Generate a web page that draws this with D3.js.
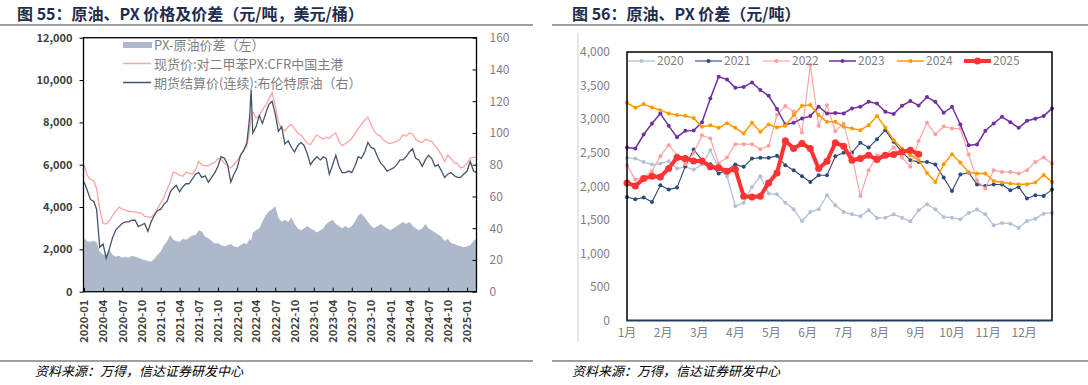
<!DOCTYPE html>
<html>
<head>
<meta charset="utf-8">
<script src="https://cdn.jsdelivr.net/npm/d3@7"></script>
<style>
body{margin:0;background:#fff;}
text{font-family:"Noto Sans CJK SC","Noto Sans",sans-serif;}
</style>
</head>
<body>
<svg id="c" width="1088" height="385"></svg>
<script>
// ---- left chart: semi-monthly readings ----
var leftDates = [
  '2020-01-02','2020-01-16','2020-02-01','2020-02-16','2020-03-01','2020-03-16','2020-04-01','2020-04-16','2020-05-01','2020-05-16','2020-06-01','2020-06-16',
  '2020-07-01','2020-07-16','2020-08-01','2020-08-16','2020-09-01','2020-09-16','2020-10-01','2020-10-16','2020-11-01','2020-11-16','2020-12-01','2020-12-16',
  '2021-01-01','2021-01-16','2021-02-01','2021-02-16','2021-03-01','2021-03-16','2021-04-01','2021-04-16','2021-05-01','2021-05-16','2021-06-01','2021-06-16',
  '2021-07-01','2021-07-16','2021-08-01','2021-08-16','2021-09-01','2021-09-16','2021-10-01','2021-10-16','2021-11-01','2021-11-16','2021-12-01','2021-12-16',
  '2022-01-01','2022-01-16','2022-02-01','2022-02-16','2022-03-01','2022-03-08','2022-03-16','2022-04-01','2022-04-16','2022-05-01','2022-05-16','2022-06-01','2022-06-16',
  '2022-07-01','2022-07-16','2022-08-01','2022-08-16','2022-09-01','2022-09-16','2022-10-01','2022-10-16','2022-11-01','2022-11-16','2022-12-01','2022-12-16',
  '2023-01-01','2023-01-16','2023-02-01','2023-02-16','2023-03-01','2023-03-16','2023-04-01','2023-04-16','2023-05-01','2023-05-16','2023-06-01','2023-06-16',
  '2023-07-01','2023-07-16','2023-08-01','2023-08-16','2023-09-01','2023-09-16','2023-10-01','2023-10-16','2023-11-01','2023-11-16','2023-12-01','2023-12-16',
  '2024-01-01','2024-01-16','2024-02-01','2024-02-16','2024-03-01','2024-03-16','2024-04-01','2024-04-16','2024-05-01','2024-05-16','2024-06-01','2024-06-16',
  '2024-07-01','2024-07-16','2024-08-01','2024-08-16','2024-09-01','2024-09-16','2024-10-01','2024-10-16','2024-11-01','2024-11-16','2024-12-01','2024-12-16',
  '2025-01-01','2025-01-16','2025-02-01','2025-02-16'];
var pxPrice = [
  5980,5500,5300,5250,4880,3900,3230,3200,3350,3600,3800,4000,
  3900,3850,3800,3780,3760,3740,3700,3560,3540,3520,3650,3900,
  4200,4450,4850,5200,5650,5600,5500,5450,5650,5600,5550,5750,
  6150,6000,5950,5950,6050,6100,6300,6250,6050,5950,5850,6000,
  6200,6400,6700,6900,7600,8300,8500,8200,8300,8600,8800,9100,9400,
  8800,8000,7700,7600,7800,7900,7700,7500,7400,7200,7000,6950,
  7200,7400,7300,7200,7300,7250,7400,7500,7100,6900,7000,7100,
  7250,7450,7700,7900,8100,8250,7900,7600,7400,7350,7150,7050,
  7000,7050,7100,7200,7400,7350,7500,7450,7200,7100,7050,7200,
  7150,7100,6900,6700,6450,6150,6450,6300,6100,6050,5850,5900,
  6050,6300,6350,6350];
var brent = [
  69,64,58,57,52,28,30,21,27,34,39,41,
  43,44,44,45,45,41,42,43,38,44,48,51,
  52,55,57,63,65,67,63,66,68,68,71,74,
  75,72,73,69,72,75,79,85,84,80,69,74,
  78,86,89,94,110,127,100,104,111,106,112,118,120,
  112,101,104,93,95,91,88,92,94,92,87,80,
  83,85,83,85,84,74,80,86,79,75,75,76,
  75,79,85,84,88,94,91,90,85,81,79,76,
  77,78,80,83,83,85,88,90,84,83,79,83,
  86,84,79,80,76,72,74,75,73,72,72,74,
  76,82,76,75];
var spread = [
  2520,2380,2360,2400,2350,1900,1750,1730,1970,1750,1650,1700,
  1600,1650,1600,1700,1650,1600,1550,1500,1450,1420,1550,1730,
  1900,2200,2400,2680,2450,2400,2350,2500,2450,2550,2650,2680,
  2900,2850,2600,2520,2400,2280,2300,2200,2150,2200,2250,2150,
  2100,2200,2300,2250,2500,2400,2800,2900,3000,3300,3600,3800,3900,
  4050,3500,3300,3400,3300,3500,3200,3000,2900,3000,3100,3000,
  2900,2800,2900,3000,3200,3300,3400,3200,3100,3000,3100,3000,
  3100,3300,3600,3700,3500,3300,3100,3000,3100,3200,3100,3000,
  2900,3000,3100,3200,3300,3200,3300,3100,3000,2900,3000,3200,
  3000,2900,2800,2700,2600,2400,2500,2300,2250,2200,2150,2100,
  2150,2200,2400,2520];
var leftTicks = [0,2000,4000,6000,8000,10000,12000];
var rightTicks = [0,20,40,60,80,100,120,140,160];

// ---- right chart: weekly readings (yuan/ton) ----
var monthLabels = ['1月','2月','3月','4月','5月','6月','7月','8月','9月','10月','11月','12月'];
var s2020 = [2423,2413,2363,2323,2338,2373,2264,2289,2249,2323,2537,2264,2149,1706,1756,1990,2149,1891,1881,1756,1657,1482,1617,1657,1866,1716,1617,1582,1552,1642,1527,1532,1582,1532,1478,1642,1731,1657,1542,1532,1507,1602,1652,1582,1418,1453,1443,1383,1482,1517,1592,1602];
var s2021 = [1841,1806,1831,1766,2015,1950,1980,2298,2547,2388,2328,2189,2240,2323,2289,2413,2423,2423,2453,2313,2239,2149,2064,2164,2164,2448,2498,2503,2647,2577,2701,2836,2662,2512,2388,2363,2363,2323,2129,1930,2174,2204,2025,2005,2025,2025,1940,1990,1816,1866,1856,1950];
var s2022 = [2313,2099,2139,2224,2448,2612,2463,2328,2498,2761,2711,2338,2428,2627,2627,2627,2552,2602,3065,3194,3115,2800,3806,2900,3206,2820,2935,2450,1855,2239,2463,2463,2580,2428,2289,2675,2945,2775,2890,2860,2860,2473,2089,1965,2239,2214,2214,2189,2239,2363,2428,2338];
var s2023 = [2577,2562,2771,2935,3085,2900,2731,2826,2831,2955,3309,3632,3592,3467,3477,3547,3433,3348,3149,2920,2945,3010,3045,3184,3085,3090,3085,3160,3184,3259,3234,3110,3075,3199,3269,3204,3329,3259,3095,3184,2920,2612,2622,2826,2935,3035,2955,2870,2975,3005,3045,3160];
var s2024 = [3244,3169,3224,3174,3134,3085,3060,3050,3015,2885,2910,2870,2940,2870,2786,2945,2811,2920,2876,2900,3060,3199,3209,3060,2960,2960,2885,2861,2836,2910,3045,2876,2687,2562,2463,2388,2199,2064,2328,2478,2353,2204,2189,2189,2079,2055,2040,2030,2030,2055,2169,2064];
var s2025 = [2050,2005,2114,2149,2139,2264,2428,2413,2378,2378,2289,2274,2224,2254,1851,1841,1851,2050,2199,2677,2562,2637,2562,2264,2373,2647,2597,2388,2413,2463,2398,2463,2473,2512,2537,2478];
var spreadTicks = [0,500,1000,1500,2000,2500,3000,3500,4000];

var svg = d3.select('#c');
var titleColor = '#1f2d4d';

// titles, rules and source lines
function header(x0, x1, tx, label){
  svg.append('text').attr('x', tx).attr('y', 20)
    .attr('font-size', 16).attr('font-weight', 'bold').attr('fill', titleColor)
    .text(label);
  svg.append('line').attr('x1', x0).attr('x2', x1).attr('y1', 25).attr('y2', 25)
    .attr('stroke', '#808080').attr('stroke-width', 1.5);
  svg.append('line').attr('x1', x0).attr('x2', x1).attr('y1', 361).attr('y2', 361)
    .attr('stroke', '#808080').attr('stroke-width', 1.5);
}
header(0, 533, 17, '图 55：原油、PX 价格及价差（元/吨，美元/桶）');
header(552, 1088, 572, '图 56：原油、PX 价差（元/吨）');
[35, 572].forEach(function(x){
  svg.append('text').attr('x', x).attr('y', 376)
    .attr('font-size', 13).attr('font-style', 'italic').attr('fill', '#000')
    .text('资料来源：万得，信达证券研发中心');
});

// ================= left chart =================
var L = {l: 83.5, r: 476.5, t: 37.7, b: 291.7};
var parse = d3.timeParse('%Y-%m-%d');
var dates = leftDates.map(parse);
var x1 = d3.scaleTime().domain([new Date(2020,0,1), new Date(2025,1,15)]).range([84, L.r]);
var yL = d3.scaleLinear().domain([0,12000]).range([L.b, L.t]);
var yR = d3.scaleLinear().domain([0,160]).range([L.b, L.t]);

svg.append('clipPath').attr('id','clipL').append('rect')
  .attr('x', L.l).attr('y', L.t).attr('width', L.r - L.l).attr('height', L.b - L.t);

var gL = svg.append('g').attr('clip-path','url(#clipL)');
var area = d3.area().x(function(d,i){return x1(dates[i]);}).y0(yL(0)).y1(function(d){return yL(d);});
gL.append('path').datum(spread).attr('d', area).attr('fill', '#adb9ca');

var linePx = d3.line().x(function(d,i){return x1(dates[i]);}).y(function(d){return yL(d);});
gL.append('path').datum(pxPrice).attr('d', linePx).attr('fill','none')
  .attr('stroke','#ffa3a3').attr('stroke-width',1.3);
var lineBr = d3.line().x(function(d,i){return x1(dates[i]);}).y(function(d){return yR(d);});
gL.append('path').datum(brent).attr('d', lineBr).attr('fill','none')
  .attr('stroke','#44546a').attr('stroke-width',1.3);

svg.append('rect').attr('x', L.l).attr('y', L.t).attr('width', L.r - L.l).attr('height', L.b - L.t)
  .attr('fill','none').attr('stroke','#000').attr('stroke-width',1.3);

var axL = svg.append('g').attr('transform','translate(' + L.l + ',0)')
  .call(d3.axisLeft(yL).tickValues(leftTicks).tickSize(4).tickFormat(d3.format(',')));
axL.select('.domain').remove();
axL.selectAll('text').attr('font-size', 11).attr('font-weight','bold').attr('fill','#404040').attr('dx', -4);
axL.selectAll('line').attr('stroke','#000');

var axR = svg.append('g').attr('transform','translate(' + L.r + ',0)')
  .call(d3.axisRight(yR).tickValues(rightTicks).tickSize(-4));
axR.select('.domain').remove();
axR.selectAll('text').attr('font-size', 12).attr('fill','#7f7f7f').attr('x', 13);
axR.selectAll('line').attr('stroke','#000');

var axX = svg.append('g').attr('transform','translate(0,' + L.b + ')')
  .call(d3.axisBottom(x1).ticks(d3.timeMonth.every(3)).tickSize(-4).tickFormat(d3.timeFormat('%Y-%m')));
axX.select('.domain').remove();
axX.selectAll('line').attr('stroke','#000');
axX.selectAll('text').attr('font-size', 11).attr('font-weight','bold').attr('fill','#404040')
  .attr('transform','rotate(-90)').attr('text-anchor','end').attr('x', -8).attr('y', 0).attr('dy','0.35em');

// legend
var lg = svg.append('g');
lg.append('rect').attr('x',123).attr('y',42).attr('width',29).attr('height',6).attr('fill','#adb9ca');
lg.append('line').attr('x1',123).attr('x2',151).attr('y1',63.5).attr('y2',63.5).attr('stroke','#ffa3a3').attr('stroke-width',1.5);
lg.append('line').attr('x1',123).attr('x2',151).attr('y1',82.5).attr('y2',82.5).attr('stroke','#44546a').attr('stroke-width',1.5);
['PX-原油价差（左）','现货价:对二甲苯PX:CFR中国主港','期货结算价(连续):布伦特原油（右）'].forEach(function(t,i){
  lg.append('text').attr('x',154).attr('y',45 + i*19).attr('dy','0.35em')
    .attr('font-size',13).attr('fill','#7f7f7f').text(t);
});

// ================= right chart =================
var R = {l: 627, r: 1052, t: 52, b: 320.5};
svg.append('line').attr('x1',578).attr('x2',578).attr('y1',33).attr('y2',342).attr('stroke','#d0d0d0');
var x2 = d3.scaleLinear().domain([0,51]).range([R.l, R.r]);
var y2 = d3.scaleLinear().domain([0,4000]).range([R.b, R.t]);

var ay2 = svg.append('g').attr('transform','translate(' + (R.l - 14) + ',0)')
  .call(d3.axisLeft(y2).tickValues(spreadTicks).tickSize(0).tickFormat(d3.format(',')));
ay2.select('.domain').remove();
ay2.selectAll('text').attr('font-size',12).attr('fill','#7f7f7f');

var ax2 = svg.append('g').attr('transform','translate(0,' + (R.b + 16) + ')');
monthLabels.forEach(function(m,i){
  ax2.append('text').attr('x', x2(i*52/12)).attr('y',0).attr('text-anchor','middle')
    .attr('font-size',12).attr('fill','#7f7f7f').text(m);
});

var series = [
  {name:'2020', data:s2020, color:'#b4c0d4', w:1.3, r:2},
  {name:'2021', data:s2021, color:'#2e4a7a', w:1.1, r:2},
  {name:'2022', data:s2022, color:'#ff9e9e', w:1.1, r:2},
  {name:'2023', data:s2023, color:'#7030a0', w:1.5, r:2},
  {name:'2024', data:s2024, color:'#ff9900', w:1.5, r:2},
  {name:'2025', data:s2025, color:'#ff3333', w:4, r:3.5}
];
var ln2 = d3.line().x(function(d,i){return x2(i);}).y(function(d){return y2(d);});
series.forEach(function(s){
  var g = svg.append('g');
  g.append('path').datum(s.data).attr('d', ln2).attr('fill','none')
    .attr('stroke', s.color).attr('stroke-width', s.w).attr('stroke-linejoin','round');
  g.selectAll('circle').data(s.data).enter().append('circle')
    .attr('cx', function(d,i){return x2(i);}).attr('cy', function(d){return y2(d);})
    .attr('r', s.r).attr('fill', s.color);
});

svg.append('rect').attr('x',R.l).attr('y',R.t).attr('width',R.r-R.l).attr('height',R.b-R.t)
  .attr('fill','none').attr('stroke','#000').attr('stroke-width',1.5);
svg.append('line').attr('x1',R.l).attr('x2',R.r).attr('y1',R.b).attr('y2',R.b)
  .attr('stroke','#1f3864').attr('stroke-width',1.5);

// legend
var legX = [628, 695, 763, 829, 897, 964];
series.forEach(function(s,i){
  var g = svg.append('g');
  g.append('line').attr('x1',legX[i]).attr('x2',legX[i]+27).attr('y1',61).attr('y2',61)
    .attr('stroke',s.color).attr('stroke-width',s.w);
  g.append('circle').attr('cx',legX[i]+13.5).attr('cy',61).attr('r',s.r).attr('fill',s.color);
  g.append('text').attr('x',legX[i]+29).attr('y',61).attr('dy','0.35em')
    .attr('font-size',12).attr('fill','#7f7f7f').text(s.name);
});
</script>
</body>
</html>
